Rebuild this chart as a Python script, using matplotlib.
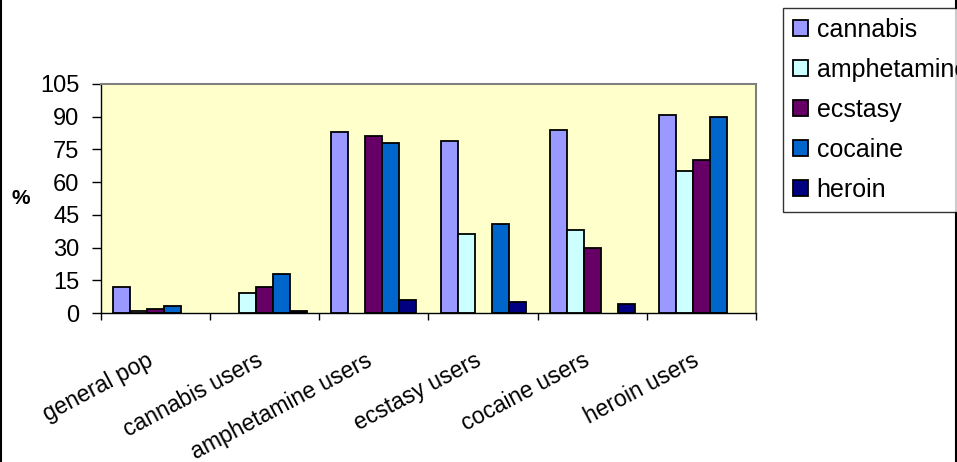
import matplotlib
matplotlib.use("Agg")
import matplotlib.pyplot as plt
from matplotlib.lines import Line2D
from matplotlib.transforms import ScaledTranslation
import numpy as np

plt.rcParams["font.family"] = ["Liberation Sans", "DejaVu Sans"]

groups = ["general pop", "cannabis users", "amphetamine users",
          "ecstasy users", "cocaine users", "heroin users"]
drugs = ["cannabis", "amphetamine", "ecstasy", "cocaine", "heroin"]
colors = ["#9999FF", "#CCFFFF", "#660066", "#0066CC", "#000080"]

cannabis = [12, 0, 83, 79, 84, 91]
amphetamine = [1, 9, 0, 36, 38, 65]
ecstasy = [2, 12, 81, 0, 30, 70]
cocaine = [3, 18, 78, 41, 0, 90]
heroin = [0, 1, 6, 5, 4, 0]
values = [cannabis, amphetamine, ecstasy, cocaine, heroin]

W, H = 957, 462
fig = plt.figure(figsize=(W / 100, H / 100), dpi=100)
ax = fig.add_axes([101 / W, 1 - 313 / H, (756 - 101) / W, (313 - 84) / H])
ax.set_facecolor("#FFFFCC")

x = np.arange(len(groups))
w = 0.156
for i, (name, vals, c) in enumerate(zip(drugs, values, colors)):
    vals = np.array(vals, dtype=float)
    # zero values are not drawn at all in the original
    shown = np.where(vals > 0, vals, np.nan)
    ax.bar(x + (i - 2) * w, shown, width=w, color=c, edgecolor="black",
           linewidth=1.3, label=name, zorder=2)

ax.set_xlim(-0.5, len(groups) - 0.5)
ax.set_ylim(0, 105)
ax.set_yticks(np.arange(0, 106, 15))
ax.tick_params(axis="y", labelsize=17, length=6.5, width=1, pad=9)

ax.set_xticks(x)
ax.set_xticklabels(groups, rotation=28, ha="right", va="center",
                   rotation_mode="anchor", fontsize=16.5)
ax.tick_params(axis="x", which="major", length=0, pad=33)
offset = ScaledTranslation(-4 / 100, 0, fig.dpi_scale_trans)
for lab in ax.get_xticklabels():
    lab.set_transform(lab.get_transform() + offset)
ax.set_xticks(np.arange(-0.5, len(groups), 1), minor=True)
ax.tick_params(axis="x", which="minor", length=5, width=1)

for side in ["top", "right"]:
    ax.spines[side].set_color("#808080")
    ax.spines[side].set_linewidth(1.5)
for side in ["left", "bottom"]:
    ax.spines[side].set_color("black")
    ax.spines[side].set_linewidth(1)

fig.text(21 / W, 1 - 198 / H, "%", fontsize=15, fontweight="bold",
         ha="center", va="center")

leg = fig.legend(loc="upper left", bbox_to_anchor=(783 / W, 1 - 8 / H),
                 fontsize=18, frameon=True, fancybox=False, edgecolor="black",
                 handlelength=0.6, handleheight=0.6, handletextpad=0.35,
                 labelspacing=0.64, borderpad=0.4, borderaxespad=0)
leg.get_frame().set_linewidth(1)

# chart border (left and right edges only are visible)
fig.add_artist(Line2D([0.5 / W, 0.5 / W], [0, 1], color="black", lw=1.5,
                      transform=fig.transFigure))
fig.add_artist(Line2D([955.5 / W, 955.5 / W], [0, 1], color="black", lw=1.5,
                      transform=fig.transFigure))

fig.savefig("out.png", dpi=100)
